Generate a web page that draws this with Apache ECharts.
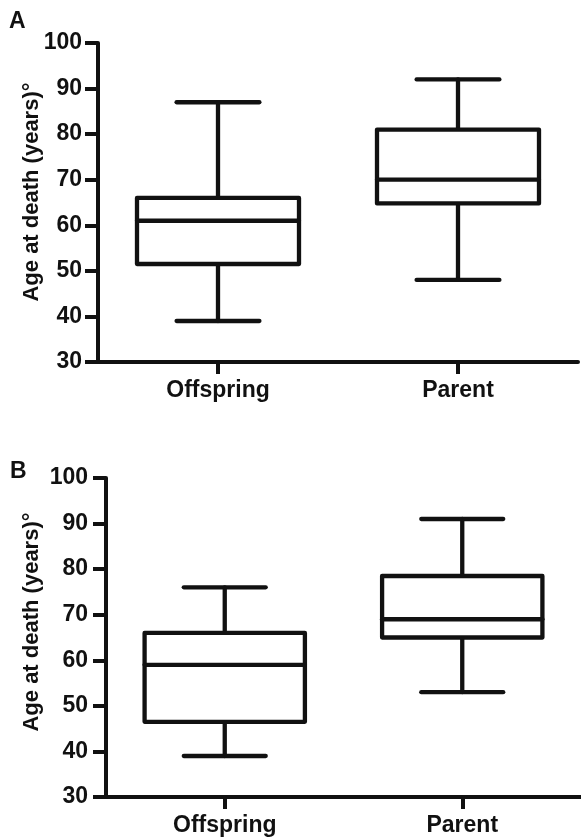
<!DOCTYPE html>
<html>
<head>
<meta charset="utf-8">
<script src="https://cdn.jsdelivr.net/npm/echarts@6/dist/echarts.min.js"></script>
<style>html,body{margin:0;padding:0;background:#fff;}#c{width:581px;height:839px;}</style>
</head>
<body>
<div id="c"></div>
<script>
// Data: [min, Q1, median, Q3, max]
const categories = ['Offspring', 'Parent'];
const panelA_offspring = [39, 51.5, 61, 66, 87];
const panelA_parent = [48, 64.8, 70, 81, 92];
const panelB_offspring = [39, 46.5, 59, 66, 76];
const panelB_parent = [53, 65, 69, 78.5, 91];
const yTicks = [30, 40, 50, 60, 70, 80, 90, 100];
const yTitle = 'Age at death (years)°';

const FONT = '"Liberation Sans", Arial, Helvetica, sans-serif';
const INK = '#111';

function renderBox(params, api) {
  const x = api.value(0);
  const mn = api.value(1), q1 = api.value(2), md = api.value(3), q3 = api.value(4), mx = api.value(5);
  const band = api.size([1, 0])[0];
  const bw = band * 0.675, cw = band * 0.345;
  const pMin = api.coord([x, mn]), pQ1 = api.coord([x, q1]), pMd = api.coord([x, md]),
        pQ3 = api.coord([x, q3]), pMx = api.coord([x, mx]);
  const cx = pMd[0];
  const st = {stroke: INK, lineWidth: 4.3, fill: null, lineCap: 'round', lineJoin: 'round'};
  return {
    type: 'group',
    children: [
      {type: 'line', shape: {x1: cx, y1: pQ3[1], x2: cx, y2: pMx[1]}, style: st},
      {type: 'line', shape: {x1: cx, y1: pQ1[1], x2: cx, y2: pMin[1]}, style: st},
      {type: 'line', shape: {x1: cx - cw / 2, y1: pMx[1], x2: cx + cw / 2, y2: pMx[1]}, style: st},
      {type: 'line', shape: {x1: cx - cw / 2, y1: pMin[1], x2: cx + cw / 2, y2: pMin[1]}, style: st},
      {type: 'rect', shape: {x: cx - bw / 2, y: pQ3[1], width: bw, height: pQ1[1] - pQ3[1]},
        style: {stroke: INK, lineWidth: 4.3, fill: '#fff', lineJoin: 'round'}},
      {type: 'line', shape: {x1: cx - bw / 2, y1: pMd[1], x2: cx + bw / 2, y2: pMd[1]}, style: st}
    ]
  };
}

function toRows(a, b) {
  return [[0].concat(a), [1].concat(b)];
}

function xAxisOpt(gi) {
  return {
    type: 'category', gridIndex: gi, data: categories,
    axisLine: {lineStyle: {color: INK, width: 4}},
    axisTick: {show: true, alignWithLabel: true, length: 12, lineStyle: {color: INK, width: 4}},
    axisLabel: {color: INK, fontFamily: FONT, fontWeight: 'bold', fontSize: 23, margin: 17, interval: 0},
    splitLine: {show: false}
  };
}
function yAxisOpt(gi, margin) {
  return {
    type: 'value', gridIndex: gi, min: yTicks[0], max: yTicks[yTicks.length - 1], interval: 10,
    axisLine: {show: true, lineStyle: {color: INK, width: 4}},
    axisTick: {show: true, length: 13, lineStyle: {color: INK, width: 4}},
    axisLabel: {color: INK, fontFamily: FONT, fontWeight: 'bold', fontSize: 23, margin: margin},
    splitLine: {show: false}
  };
}

const chart = echarts.init(document.getElementById('c'), null, {renderer: 'canvas'});
chart.setOption({
  backgroundColor: '#fff',
  animation: false,
  grid: [
    {left: 98, top: 43, width: 480, height: 319},
    {left: 106, top: 478, width: 478, height: 319}
  ],
  xAxis: [xAxisOpt(0), xAxisOpt(1)],
  yAxis: [yAxisOpt(0, 16), yAxisOpt(1, 18)],
  series: [
    {type: 'custom', xAxisIndex: 0, yAxisIndex: 0, renderItem: renderBox,
      encode: {x: 0, y: [1, 2, 3, 4, 5]}, data: toRows(panelA_offspring, panelA_parent), clip: false},
    {type: 'custom', xAxisIndex: 1, yAxisIndex: 1, renderItem: renderBox,
      encode: {x: 0, y: [1, 2, 3, 4, 5]}, data: toRows(panelB_offspring, panelB_parent), clip: false}
  ],
  graphic: [
    {type: 'text', x: 9, y: 10, style: {text: 'A', fill: INK, font: 'bold 23px ' + FONT}},
    {type: 'text', x: 10, y: 460, style: {text: 'B', fill: INK, font: 'bold 23px ' + FONT}},
    {type: 'text', x: 32, y: 192, rotation: Math.PI / 2,
      style: {text: yTitle, fill: INK, font: 'bold 22px ' + FONT, textAlign: 'center', textVerticalAlign: 'middle'}},
    {type: 'text', x: 32, y: 622, rotation: Math.PI / 2,
      style: {text: yTitle, fill: INK, font: 'bold 22px ' + FONT, textAlign: 'center', textVerticalAlign: 'middle'}}
  ]
});
</script>
</body>
</html>
